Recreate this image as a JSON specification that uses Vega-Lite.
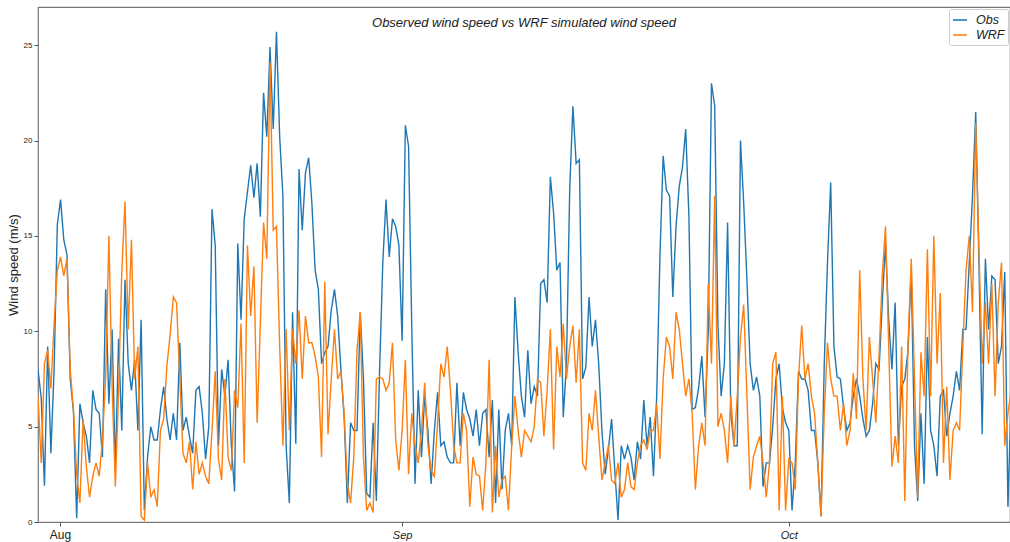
{
"$schema": "https://vega.github.io/schema/vega-lite/v6.json",
"width": 972, "height": 515,
"autosize": "none",
"padding": {"left": 38, "top": 7, "right": 0, "bottom": 20},
"background": "white",
"config": {"font": "Liberation Sans", "view": {"stroke": "#777", "strokeWidth": 1.2}},
"title": {"text": "Observed wind speed vs WRF simulated wind speed", "fontSize": 13, "fontStyle": "italic", "fontWeight": "normal", "color": "#222", "anchor": "middle", "baseline": "middle", "offset": -29, "font": "Liberation Sans"},
"data": {"values": [
{"t":"2019-08-03T18:00","Obs":8.0,"WRF":6.6},
{"t":"2019-08-04T00:00","Obs":6.5,"WRF":3.1},{"t":"2019-08-04T06:00","Obs":1.9,"WRF":8.3},{"t":"2019-08-04T12:00","Obs":9.2,"WRF":9.0},{"t":"2019-08-04T18:00","Obs":3.6,"WRF":7.0},
{"t":"2019-08-05T00:00","Obs":8.0,"WRF":10.4},{"t":"2019-08-05T06:00","Obs":15.6,"WRF":13.2},{"t":"2019-08-05T12:00","Obs":16.9,"WRF":13.9},{"t":"2019-08-05T18:00","Obs":14.8,"WRF":12.9},
{"t":"2019-08-06T00:00","Obs":14.0,"WRF":13.8},{"t":"2019-08-06T06:00","Obs":7.5,"WRF":8.0},{"t":"2019-08-06T12:00","Obs":5.8,"WRF":5.9},{"t":"2019-08-06T18:00","Obs":0.2,"WRF":2.5},
{"t":"2019-08-07T00:00","Obs":6.2,"WRF":1.0},{"t":"2019-08-07T06:00","Obs":5.2,"WRF":5.4},{"t":"2019-08-07T12:00","Obs":4.5,"WRF":2.9},{"t":"2019-08-07T18:00","Obs":3.1,"WRF":1.3},
{"t":"2019-08-08T00:00","Obs":6.9,"WRF":2.4},{"t":"2019-08-08T06:00","Obs":5.9,"WRF":3.1},{"t":"2019-08-08T12:00","Obs":5.7,"WRF":2.4},{"t":"2019-08-08T18:00","Obs":3.4,"WRF":4.3},
{"t":"2019-08-09T00:00","Obs":12.2,"WRF":7.6},{"t":"2019-08-09T06:00","Obs":6.2,"WRF":15.0},{"t":"2019-08-09T12:00","Obs":10.1,"WRF":7.1},{"t":"2019-08-09T18:00","Obs":2.7,"WRF":1.85},
{"t":"2019-08-10T00:00","Obs":9.6,"WRF":6.8},{"t":"2019-08-10T06:00","Obs":4.8,"WRF":13.1},{"t":"2019-08-10T12:00","Obs":12.7,"WRF":16.8},{"t":"2019-08-10T18:00","Obs":8.3,"WRF":10.1},
{"t":"2019-08-11T00:00","Obs":6.9,"WRF":14.8},{"t":"2019-08-11T06:00","Obs":8.5,"WRF":7.5},{"t":"2019-08-11T12:00","Obs":4.8,"WRF":9.2},{"t":"2019-08-11T18:00","Obs":10.6,"WRF":0.3},
{"t":"2019-08-12T00:00","Obs":0.6,"WRF":0.1},{"t":"2019-08-12T06:00","Obs":3.4,"WRF":3.1},{"t":"2019-08-12T12:00","Obs":5.0,"WRF":1.3},{"t":"2019-08-12T18:00","Obs":4.3,"WRF":1.7},
{"t":"2019-08-13T00:00","Obs":4.3,"WRF":0.8},{"t":"2019-08-13T06:00","Obs":5.9,"WRF":4.8},{"t":"2019-08-13T12:00","Obs":7.1,"WRF":5.4},{"t":"2019-08-13T18:00","Obs":5.4,"WRF":8.2},
{"t":"2019-08-14T00:00","Obs":4.3,"WRF":9.8},{"t":"2019-08-14T06:00","Obs":5.7,"WRF":11.8},{"t":"2019-08-14T12:00","Obs":4.3,"WRF":11.5},{"t":"2019-08-14T18:00","Obs":9.4,"WRF":7.5},
{"t":"2019-08-15T00:00","Obs":4.8,"WRF":3.6},{"t":"2019-08-15T06:00","Obs":5.5,"WRF":3.1},{"t":"2019-08-15T12:00","Obs":4.5,"WRF":4.2},{"t":"2019-08-15T18:00","Obs":3.6,"WRF":1.7},
{"t":"2019-08-16T00:00","Obs":6.9,"WRF":4.2},{"t":"2019-08-16T06:00","Obs":7.1,"WRF":2.5},{"t":"2019-08-16T12:00","Obs":5.7,"WRF":3.1},{"t":"2019-08-16T18:00","Obs":3.3,"WRF":2.4},
{"t":"2019-08-17T00:00","Obs":5.0,"WRF":2.0},{"t":"2019-08-17T06:00","Obs":16.4,"WRF":4.8},{"t":"2019-08-17T12:00","Obs":14.5,"WRF":7.9},{"t":"2019-08-17T18:00","Obs":4.0,"WRF":3.3},
{"t":"2019-08-18T00:00","Obs":8.0,"WRF":2.2},{"t":"2019-08-18T06:00","Obs":6.6,"WRF":7.5},{"t":"2019-08-18T12:00","Obs":8.5,"WRF":3.4},{"t":"2019-08-18T18:00","Obs":4.0,"WRF":2.7},
{"t":"2019-08-19T00:00","Obs":1.6,"WRF":6.9},{"t":"2019-08-19T06:00","Obs":14.6,"WRF":6.0},{"t":"2019-08-19T12:00","Obs":10.6,"WRF":10.4},{"t":"2019-08-19T18:00","Obs":15.9,"WRF":3.1},
{"t":"2019-08-20T00:00","Obs":17.3,"WRF":14.5},{"t":"2019-08-20T06:00","Obs":18.7,"WRF":10.8},{"t":"2019-08-20T12:00","Obs":17.0,"WRF":13.4},{"t":"2019-08-20T18:00","Obs":18.8,"WRF":5.2},
{"t":"2019-08-21T00:00","Obs":16.0,"WRF":10.4},{"t":"2019-08-21T06:00","Obs":22.5,"WRF":15.7},{"t":"2019-08-21T12:00","Obs":20.2,"WRF":13.8},{"t":"2019-08-21T18:00","Obs":24.9,"WRF":24.1},
{"t":"2019-08-22T00:00","Obs":20.6,"WRF":15.3},{"t":"2019-08-22T06:00","Obs":25.7,"WRF":15.5},{"t":"2019-08-22T12:00","Obs":20.2,"WRF":9.2},{"t":"2019-08-22T18:00","Obs":17.1,"WRF":4.0},
{"t":"2019-08-23T00:00","Obs":4.0,"WRF":10.1},{"t":"2019-08-23T06:00","Obs":1.0,"WRF":4.8},{"t":"2019-08-23T12:00","Obs":11.0,"WRF":10.1},{"t":"2019-08-23T18:00","Obs":4.1,"WRF":8.3},
{"t":"2019-08-24T00:00","Obs":18.5,"WRF":11.1},{"t":"2019-08-24T06:00","Obs":15.3,"WRF":7.5},{"t":"2019-08-24T12:00","Obs":18.3,"WRF":10.8},{"t":"2019-08-24T18:00","Obs":19.1,"WRF":9.4},
{"t":"2019-08-25T00:00","Obs":16.7,"WRF":9.4},{"t":"2019-08-25T06:00","Obs":13.2,"WRF":8.7},{"t":"2019-08-25T12:00","Obs":12.2,"WRF":7.6},{"t":"2019-08-25T18:00","Obs":8.3,"WRF":3.4},
{"t":"2019-08-26T00:00","Obs":8.9,"WRF":12.6},{"t":"2019-08-26T06:00","Obs":9.2,"WRF":4.6},{"t":"2019-08-26T12:00","Obs":11.1,"WRF":7.5},{"t":"2019-08-26T18:00","Obs":12.2,"WRF":10.1},
{"t":"2019-08-27T00:00","Obs":10.8,"WRF":7.5},{"t":"2019-08-27T06:00","Obs":8.0,"WRF":7.9},{"t":"2019-08-27T12:00","Obs":5.5,"WRF":5.7},{"t":"2019-08-27T18:00","Obs":1.0,"WRF":2.0},
{"t":"2019-08-28T00:00","Obs":5.2,"WRF":1.0},{"t":"2019-08-28T06:00","Obs":4.8,"WRF":3.4},{"t":"2019-08-28T12:00","Obs":4.8,"WRF":9.0},{"t":"2019-08-28T18:00","Obs":11.0,"WRF":11.0},
{"t":"2019-08-29T00:00","Obs":7.5,"WRF":3.4},{"t":"2019-08-29T06:00","Obs":1.5,"WRF":0.6},{"t":"2019-08-29T12:00","Obs":1.3,"WRF":1.0},{"t":"2019-08-29T18:00","Obs":5.2,"WRF":0.5},
{"t":"2019-08-30T00:00","Obs":1.1,"WRF":7.5},{"t":"2019-08-30T06:00","Obs":7.9,"WRF":7.6},{"t":"2019-08-30T12:00","Obs":13.6,"WRF":7.5},{"t":"2019-08-30T18:00","Obs":16.9,"WRF":6.9},
{"t":"2019-08-31T00:00","Obs":13.9,"WRF":7.3},{"t":"2019-08-31T06:00","Obs":15.9,"WRF":9.4},{"t":"2019-08-31T12:00","Obs":15.5,"WRF":4.3},{"t":"2019-08-31T18:00","Obs":14.5,"WRF":2.7},
{"t":"2019-09-01T00:00","Obs":9.5,"WRF":4.8},{"t":"2019-09-01T06:00","Obs":20.8,"WRF":8.5},{"t":"2019-09-01T12:00","Obs":19.7,"WRF":2.5},{"t":"2019-09-01T18:00","Obs":10.1,"WRF":5.7},
{"t":"2019-09-02T00:00","Obs":2.0,"WRF":4.0},{"t":"2019-09-02T06:00","Obs":6.9,"WRF":3.1},{"t":"2019-09-02T12:00","Obs":3.4,"WRF":4.8},{"t":"2019-09-02T18:00","Obs":6.6,"WRF":7.3},
{"t":"2019-09-03T00:00","Obs":4.8,"WRF":4.0},{"t":"2019-09-03T06:00","Obs":2.0,"WRF":2.7},{"t":"2019-09-03T12:00","Obs":4.8,"WRF":2.4},{"t":"2019-09-03T18:00","Obs":6.8,"WRF":5.2},
{"t":"2019-09-04T00:00","Obs":4.0,"WRF":8.3},{"t":"2019-09-04T06:00","Obs":4.2,"WRF":7.6},{"t":"2019-09-04T12:00","Obs":3.4,"WRF":9.2},{"t":"2019-09-04T18:00","Obs":3.1,"WRF":6.9},
{"t":"2019-09-05T00:00","Obs":3.1,"WRF":4.0},{"t":"2019-09-05T06:00","Obs":7.3,"WRF":3.1},{"t":"2019-09-05T12:00","Obs":4.0,"WRF":3.1},{"t":"2019-09-05T18:00","Obs":6.8,"WRF":5.7},
{"t":"2019-09-06T00:00","Obs":5.9,"WRF":4.8},{"t":"2019-09-06T06:00","Obs":5.4,"WRF":0.8},{"t":"2019-09-06T12:00","Obs":4.5,"WRF":3.4},{"t":"2019-09-06T18:00","Obs":5.9,"WRF":2.5},
{"t":"2019-09-07T00:00","Obs":4.0,"WRF":2.4},{"t":"2019-09-07T06:00","Obs":5.7,"WRF":0.6},{"t":"2019-09-07T12:00","Obs":5.9,"WRF":3.1},{"t":"2019-09-07T18:00","Obs":3.4,"WRF":8.5},
{"t":"2019-09-08T00:00","Obs":6.4,"WRF":0.5},{"t":"2019-09-08T06:00","Obs":1.0,"WRF":4.0},{"t":"2019-09-08T12:00","Obs":5.9,"WRF":1.3},{"t":"2019-09-08T18:00","Obs":1.7,"WRF":2.2},
{"t":"2019-09-09T00:00","Obs":4.8,"WRF":2.4},{"t":"2019-09-09T06:00","Obs":5.7,"WRF":0.6},{"t":"2019-09-09T12:00","Obs":4.0,"WRF":4.0},{"t":"2019-09-09T18:00","Obs":11.8,"WRF":6.6},
{"t":"2019-09-10T00:00","Obs":8.9,"WRF":4.8},{"t":"2019-09-10T06:00","Obs":6.6,"WRF":3.4},{"t":"2019-09-10T12:00","Obs":5.5,"WRF":4.8},{"t":"2019-09-10T18:00","Obs":9.0,"WRF":4.5},
{"t":"2019-09-11T00:00","Obs":6.2,"WRF":4.2},{"t":"2019-09-11T06:00","Obs":7.1,"WRF":5.0},{"t":"2019-09-11T12:00","Obs":6.6,"WRF":7.5},{"t":"2019-09-11T18:00","Obs":12.5,"WRF":7.3},
{"t":"2019-09-12T00:00","Obs":12.7,"WRF":4.5},{"t":"2019-09-12T06:00","Obs":11.5,"WRF":6.9},{"t":"2019-09-12T12:00","Obs":18.1,"WRF":10.1},{"t":"2019-09-12T18:00","Obs":16.2,"WRF":3.8},
{"t":"2019-09-13T00:00","Obs":13.2,"WRF":9.2},{"t":"2019-09-13T06:00","Obs":13.6,"WRF":7.6},{"t":"2019-09-13T12:00","Obs":5.5,"WRF":10.4},{"t":"2019-09-13T18:00","Obs":8.3,"WRF":7.5},
{"t":"2019-09-14T00:00","Obs":17.4,"WRF":9.2},{"t":"2019-09-14T06:00","Obs":21.8,"WRF":10.3},{"t":"2019-09-14T12:00","Obs":18.8,"WRF":7.3},{"t":"2019-09-14T18:00","Obs":19.0,"WRF":10.1},
{"t":"2019-09-15T00:00","Obs":7.5,"WRF":3.1},{"t":"2019-09-15T06:00","Obs":8.1,"WRF":2.7},{"t":"2019-09-15T12:00","Obs":11.8,"WRF":5.7},{"t":"2019-09-15T18:00","Obs":9.2,"WRF":4.8},
{"t":"2019-09-16T00:00","Obs":10.6,"WRF":6.9},{"t":"2019-09-16T06:00","Obs":8.3,"WRF":4.5},{"t":"2019-09-16T12:00","Obs":4.8,"WRF":2.2},{"t":"2019-09-16T18:00","Obs":2.5,"WRF":3.1},
{"t":"2019-09-17T00:00","Obs":3.8,"WRF":4.0},{"t":"2019-09-17T06:00","Obs":5.4,"WRF":2.2},{"t":"2019-09-17T12:00","Obs":2.7,"WRF":2.0},{"t":"2019-09-17T18:00","Obs":0.1,"WRF":3.1},
{"t":"2019-09-18T00:00","Obs":4.0,"WRF":1.3},{"t":"2019-09-18T06:00","Obs":3.3,"WRF":1.7},{"t":"2019-09-18T12:00","Obs":4.0,"WRF":3.1},{"t":"2019-09-18T18:00","Obs":3.4,"WRF":1.85},
{"t":"2019-09-19T00:00","Obs":2.2,"WRF":1.7},{"t":"2019-09-19T06:00","Obs":4.2,"WRF":3.1},{"t":"2019-09-19T12:00","Obs":3.3,"WRF":4.0},{"t":"2019-09-19T18:00","Obs":6.4,"WRF":4.3},
{"t":"2019-09-20T00:00","Obs":4.0,"WRF":3.8},{"t":"2019-09-20T06:00","Obs":5.5,"WRF":4.8},{"t":"2019-09-20T12:00","Obs":2.4,"WRF":4.8},{"t":"2019-09-20T18:00","Obs":6.6,"WRF":6.2},
{"t":"2019-09-21T00:00","Obs":13.9,"WRF":3.3},{"t":"2019-09-21T06:00","Obs":19.2,"WRF":7.5},{"t":"2019-09-21T12:00","Obs":17.4,"WRF":9.7},{"t":"2019-09-21T18:00","Obs":17.1,"WRF":9.2},
{"t":"2019-09-22T00:00","Obs":11.8,"WRF":7.5},{"t":"2019-09-22T06:00","Obs":15.5,"WRF":11.0},{"t":"2019-09-22T12:00","Obs":17.6,"WRF":10.1},{"t":"2019-09-22T18:00","Obs":18.6,"WRF":8.3},
{"t":"2019-09-23T00:00","Obs":20.6,"WRF":6.6},{"t":"2019-09-23T06:00","Obs":16.0,"WRF":7.5},{"t":"2019-09-23T12:00","Obs":5.9,"WRF":5.7},{"t":"2019-09-23T18:00","Obs":6.0,"WRF":1.7},
{"t":"2019-09-24T00:00","Obs":7.0,"WRF":4.0},{"t":"2019-09-24T06:00","Obs":8.7,"WRF":5.2},{"t":"2019-09-24T12:00","Obs":5.5,"WRF":4.0},{"t":"2019-09-24T18:00","Obs":10.0,"WRF":12.5},
{"t":"2019-09-25T00:00","Obs":23.0,"WRF":8.3},{"t":"2019-09-25T06:00","Obs":21.8,"WRF":17.1},{"t":"2019-09-25T12:00","Obs":10.3,"WRF":5.0},{"t":"2019-09-25T18:00","Obs":6.6,"WRF":5.7},
{"t":"2019-09-26T00:00","Obs":8.3,"WRF":4.8},{"t":"2019-09-26T06:00","Obs":15.7,"WRF":3.1},{"t":"2019-09-26T12:00","Obs":5.7,"WRF":6.6},{"t":"2019-09-26T18:00","Obs":4.0,"WRF":4.0},
{"t":"2019-09-27T00:00","Obs":4.0,"WRF":6.6},{"t":"2019-09-27T06:00","Obs":20.0,"WRF":9.7},{"t":"2019-09-27T12:00","Obs":16.7,"WRF":11.4},{"t":"2019-09-27T18:00","Obs":12.7,"WRF":6.6},
{"t":"2019-09-28T00:00","Obs":8.3,"WRF":1.7},{"t":"2019-09-28T06:00","Obs":6.9,"WRF":3.4},{"t":"2019-09-28T12:00","Obs":7.6,"WRF":4.0},{"t":"2019-09-28T18:00","Obs":6.6,"WRF":4.5},
{"t":"2019-09-29T00:00","Obs":1.85,"WRF":3.1},{"t":"2019-09-29T06:00","Obs":3.1,"WRF":1.3},{"t":"2019-09-29T12:00","Obs":3.1,"WRF":3.1},{"t":"2019-09-29T18:00","Obs":5.0,"WRF":8.3},
{"t":"2019-09-30T00:00","Obs":7.5,"WRF":8.9},{"t":"2019-09-30T06:00","Obs":8.3,"WRF":0.6},{"t":"2019-09-30T12:00","Obs":6.0,"WRF":6.6},{"t":"2019-09-30T18:00","Obs":5.2,"WRF":0.6},
{"t":"2019-10-01T00:00","Obs":4.8,"WRF":3.3},{"t":"2019-10-01T06:00","Obs":0.6,"WRF":3.1},{"t":"2019-10-01T12:00","Obs":3.1,"WRF":1.7},{"t":"2019-10-01T18:00","Obs":7.9,"WRF":7.5},
{"t":"2019-10-02T00:00","Obs":7.5,"WRF":10.3},{"t":"2019-10-02T06:00","Obs":7.5,"WRF":7.5},{"t":"2019-10-02T12:00","Obs":6.9,"WRF":8.3},{"t":"2019-10-02T18:00","Obs":4.8,"WRF":6.6},
{"t":"2019-10-03T00:00","Obs":4.8,"WRF":5.7},{"t":"2019-10-03T06:00","Obs":3.1,"WRF":3.1},{"t":"2019-10-03T12:00","Obs":0.3,"WRF":0.3},{"t":"2019-10-03T18:00","Obs":8.3,"WRF":5.7},
{"t":"2019-10-04T00:00","Obs":13.6,"WRF":9.4},{"t":"2019-10-04T06:00","Obs":17.8,"WRF":7.5},{"t":"2019-10-04T12:00","Obs":9.2,"WRF":6.6},{"t":"2019-10-04T18:00","Obs":7.6,"WRF":6.6},
{"t":"2019-10-05T00:00","Obs":7.5,"WRF":4.8},{"t":"2019-10-05T06:00","Obs":6.0,"WRF":6.2},{"t":"2019-10-05T12:00","Obs":4.8,"WRF":4.0},{"t":"2019-10-05T18:00","Obs":5.2,"WRF":4.8},
{"t":"2019-10-06T00:00","Obs":6.6,"WRF":7.8},{"t":"2019-10-06T06:00","Obs":7.5,"WRF":5.4},{"t":"2019-10-06T12:00","Obs":6.6,"WRF":13.2},{"t":"2019-10-06T18:00","Obs":5.4,"WRF":7.5},
{"t":"2019-10-07T00:00","Obs":4.5,"WRF":4.8},{"t":"2019-10-07T06:00","Obs":4.8,"WRF":9.7},{"t":"2019-10-07T12:00","Obs":6.2,"WRF":7.5},{"t":"2019-10-07T18:00","Obs":8.3,"WRF":5.2},
{"t":"2019-10-08T00:00","Obs":8.0,"WRF":8.7},{"t":"2019-10-08T06:00","Obs":11.5,"WRF":12.9},{"t":"2019-10-08T12:00","Obs":14.6,"WRF":15.5},{"t":"2019-10-08T18:00","Obs":10.6,"WRF":9.2},
{"t":"2019-10-09T00:00","Obs":8.0,"WRF":2.9},{"t":"2019-10-09T06:00","Obs":11.5,"WRF":4.5},{"t":"2019-10-09T12:00","Obs":4.0,"WRF":3.1},{"t":"2019-10-09T18:00","Obs":7.1,"WRF":9.2},
{"t":"2019-10-10T00:00","Obs":7.5,"WRF":1.1},{"t":"2019-10-10T06:00","Obs":9.0,"WRF":9.4},{"t":"2019-10-10T12:00","Obs":13.2,"WRF":13.8},{"t":"2019-10-10T18:00","Obs":4.0,"WRF":7.5},
{"t":"2019-10-11T00:00","Obs":1.1,"WRF":1.3},{"t":"2019-10-11T06:00","Obs":5.7,"WRF":8.9},{"t":"2019-10-11T12:00","Obs":2.0,"WRF":6.6},{"t":"2019-10-11T18:00","Obs":9.7,"WRF":14.3},
{"t":"2019-10-12T00:00","Obs":4.8,"WRF":6.6},{"t":"2019-10-12T06:00","Obs":4.0,"WRF":15.0},{"t":"2019-10-12T12:00","Obs":2.4,"WRF":8.3},{"t":"2019-10-12T18:00","Obs":6.6,"WRF":12.0},
{"t":"2019-10-13T00:00","Obs":6.9,"WRF":3.1},{"t":"2019-10-13T06:00","Obs":4.5,"WRF":7.1},{"t":"2019-10-13T12:00","Obs":5.7,"WRF":2.2},{"t":"2019-10-13T18:00","Obs":6.6,"WRF":4.8},
{"t":"2019-10-14T00:00","Obs":7.9,"WRF":5.2},{"t":"2019-10-14T06:00","Obs":6.9,"WRF":4.8},{"t":"2019-10-14T12:00","Obs":10.1,"WRF":9.2},{"t":"2019-10-14T18:00","Obs":10.1,"WRF":13.2},
{"t":"2019-10-15T00:00","Obs":13.6,"WRF":15.0},{"t":"2019-10-15T06:00","Obs":17.1,"WRF":11.0},{"t":"2019-10-15T12:00","Obs":21.5,"WRF":20.9},{"t":"2019-10-15T18:00","Obs":13.6,"WRF":14.3},
{"t":"2019-10-16T00:00","Obs":4.6,"WRF":8.3},{"t":"2019-10-16T06:00","Obs":13.8,"WRF":11.5},{"t":"2019-10-16T12:00","Obs":10.1,"WRF":8.3},{"t":"2019-10-16T18:00","Obs":12.9,"WRF":12.5},
{"t":"2019-10-17T00:00","Obs":12.7,"WRF":6.6},{"t":"2019-10-17T06:00","Obs":8.3,"WRF":11.5},{"t":"2019-10-17T12:00","Obs":9.2,"WRF":13.6},{"t":"2019-10-17T18:00","Obs":13.1,"WRF":4.0},
{"t":"2019-10-18T00:00","Obs":0.8,"WRF":5.7},{"t":"2019-10-18T06:00","Obs":6.6,"WRF":6.9}
]},
"transform": [{"fold": ["Obs", "WRF"], "as": ["series", "speed"]}],
"mark": {"type": "line", "strokeWidth": 1.4, "clip": true, "interpolate": "linear"},
"encoding": {
  "x": {"field": "t", "type": "temporal",
    "scale": {"domain": [{"year": 2019, "month": 8, "date": 3, "hours": 18}, {"year": 2019, "month": 10, "date": 18, "hours": 3, "minutes": 50}]},
    "axis": {"title": null, "grid": false, "domain": false,
      "values": [{"year": 2019, "month": 8, "date": 5, "hours": 11}, {"year": 2019, "month": 9, "date": 1}, {"year": 2019, "month": 10, "date": 1}],
      "labelExpr": "timeFormat(datum.value, '%b')",
      "labelFontStyle": {"condition": {"test": "month(datum.value) == 7", "value": "normal"}, "value": "italic"},
      "labelFontSize": {"condition": {"test": "month(datum.value) == 7", "value": 12}, "value": 11},
      "labelColor": "#222", "tickColor": "#555", "tickSize": 4, "labelPadding": 3, "labelFont": "Liberation Sans", "labelFlush": false}},
  "y": {"field": "speed", "type": "quantitative",
    "scale": {"domain": [0, 27], "nice": false},
    "axis": {"title": "Wind speed (m/s)", "grid": false, "domain": false,
      "values": [0, 5, 10, 15, 20, 25], "labelFontSize": 8, "labelColor": "#222", "tickColor": "#555", "tickSize": 4, "labelPadding": 2,
      "titleFontSize": 13, "titleFontWeight": "normal", "titleColor": "#222", "titlePadding": 3, "titleFont": "Liberation Sans", "labelFont": "Liberation Sans"}},
  "color": {"field": "series", "type": "nominal",
    "scale": {"domain": ["Obs", "WRF"], "range": ["#1f77b4", "#ff7f0e"]},
    "legend": {"title": null, "orient": "top-right", "offset": 2, "symbolType": "stroke", "symbolSize": 196, "symbolStrokeWidth": 1.6,
      "labelFontSize": 12.5, "labelFontStyle": "italic", "labelColor": "#222", "labelFont": "Liberation Sans", "labelOffset": 8,
      "strokeColor": "#ccc", "fillColor": "white", "padding": 3, "cornerRadius": 2, "rowPadding": 0}}
}
}
